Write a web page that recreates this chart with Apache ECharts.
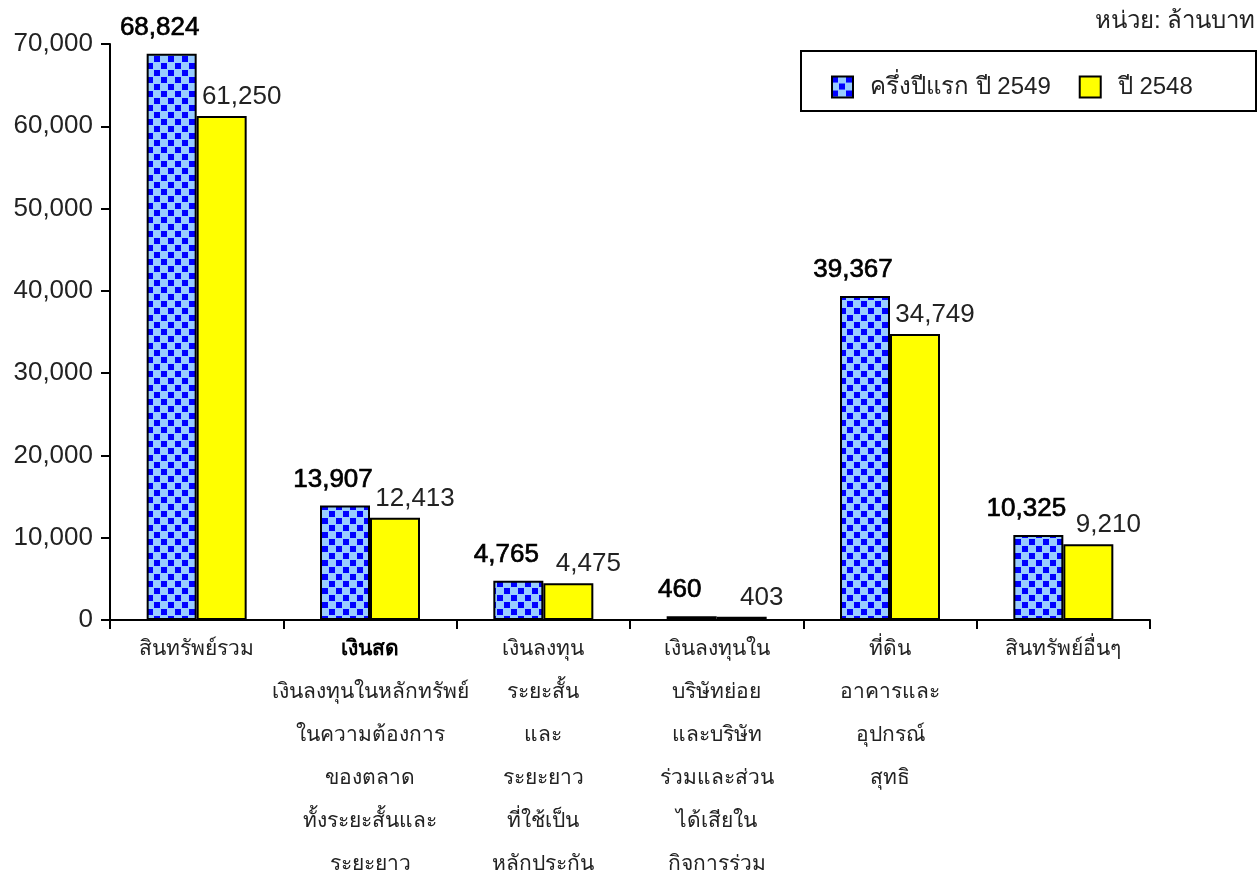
<!DOCTYPE html>
<html>
<head>
<meta charset="utf-8">
<script src="https://cdn.jsdelivr.net/npm/echarts@6/dist/echarts.min.js"></script>
<style>
  html, body { margin: 0; padding: 0; background: #fff; }
  #chart { width: 1257px; height: 879px; }
</style>
</head>
<body>
<div id="chart"></div>
<script>
// Asset categories (multi-line axis labels)
const categories = [
  'สินทรัพย์รวม',
  'เงินสด\nเงินลงทุนในหลักทรัพย์\nในความต้องการ\nของตลาด\nทั้งระยะสั้นและ\nระยะยาว',
  'เงินลงทุน\nระยะสั้น\nและ\nระยะยาว\nที่ใช้เป็น\nหลักประกัน',
  'เงินลงทุนใน\nบริษัทย่อย\nและบริษัท\nร่วมและส่วน\nได้เสียใน\nกิจการร่วม',
  'ที่ดิน\nอาคารและ\nอุปกรณ์\nสุทธิ',
  'สินทรัพย์อื่นๆ'
];
// Lines printed in bold inside the category labels
const boldLines = ['เงินสด'];

const seriesNames = ['ครึ่งปีแรก ปี 2549', 'ปี 2548'];
// Millions of baht
const firstHalf2549 = [68824, 13907, 4765, 460, 39367, 10325];
const year2548 = [61250, 12413, 4475, 403, 34749, 9210];

const unitText = 'หน่วย: ล้านบาท';

const numFont = '"Liberation Sans", Arial, sans-serif';
const thaiFont = '"Liberation Sans", "Noto Sans", "DejaVu Sans", sans-serif';

// Checkered fill for the first series
const tile = document.createElement('canvas');
tile.width = 14; tile.height = 14;
const tc = tile.getContext('2d');
tc.fillStyle = '#99CCFF';
tc.fillRect(0, 0, 14, 14);
tc.fillStyle = '#0000FF';
tc.fillRect(0, 0, 6, 6);
tc.fillRect(7, 7, 6, 6);
const checker = { image: tile, repeat: 'repeat' };

const fmt = v => Number(v).toLocaleString('en-US');

const chart = echarts.init(document.getElementById('chart'), null, { renderer: 'canvas' });
chart.setOption({
  animation: false,
  backgroundColor: '#ffffff',
  grid: { left: 110, right: 107, top: 44, bottom: 259 },
  graphic: [
    {
      type: 'rect',
      left: 800, top: 50,
      shape: { width: 455, height: 60 },
      style: { fill: '#ffffff', stroke: '#000000', lineWidth: 2 },
      z: 5
    },
    {
      type: 'text',
      left: 1095, top: 9,
      style: { text: unitText, font: '24px ' + thaiFont, fill: '#222' },
      z: 5
    }
  ],
  legend: {
    left: 826, top: 70,
    itemWidth: 21, itemHeight: 21,
    itemGap: 28,
    icon: 'rect',
    z: 10,
    itemStyle: { borderColor: '#000', borderWidth: 2 },
    textStyle: { fontSize: 24, fontFamily: thaiFont, color: '#222', padding: [0, 0, 0, 12] },
    data: seriesNames
  },
  xAxis: {
    type: 'category',
    data: categories,
    axisLine: { lineStyle: { color: '#000', width: 2 } },
    axisTick: { show: true, length: 9, lineStyle: { color: '#000', width: 2 } },
    axisLabel: {
      interval: 0,
      margin: 8,
      formatter: value => value.split('\n')
        .map(line => (boldLines.includes(line) ? '{b|' : '{n|') + line + '}')
        .join('\n'),
      rich: {
        n: { fontSize: 21, fontFamily: thaiFont, color: '#222', lineHeight: 43 },
        b: { fontSize: 21, fontFamily: thaiFont, color: '#000', fontWeight: 'bold', lineHeight: 43 }
      }
    }
  },
  yAxis: {
    type: 'value',
    min: 0, max: 70000, interval: 10000,
    splitLine: { show: false },
    axisLine: { show: true, lineStyle: { color: '#000', width: 2 } },
    axisTick: { show: true, length: 9, lineStyle: { color: '#000', width: 2 } },
    axisLabel: {
      margin: 17,
      fontSize: 26, fontFamily: numFont, color: '#222',
      formatter: fmt
    }
  },
  series: [
    {
      name: seriesNames[0],
      type: 'bar',
      data: firstHalf2549,
      barWidth: 50,
      barGap: '0%',
      itemStyle: { color: checker, borderColor: '#000', borderWidth: 2 },
      label: {
        show: true, position: 'top', distance: 13, offset: [-12, 0],
        fontSize: 26, fontFamily: numFont, color: '#000',
        textBorderColor: '#000', textBorderWidth: 0.7,
        formatter: p => fmt(p.value)
      }
    },
    {
      name: seriesNames[1],
      type: 'bar',
      data: year2548,
      barWidth: 50,
      itemStyle: { color: '#FFFF00', borderColor: '#000', borderWidth: 2 },
      label: {
        show: true, position: 'top', distance: 6, offset: [20, 0],
        fontSize: 26, fontFamily: numFont, color: '#222',
        formatter: p => fmt(p.value)
      }
    }
  ]
});
</script>
</body>
</html>
